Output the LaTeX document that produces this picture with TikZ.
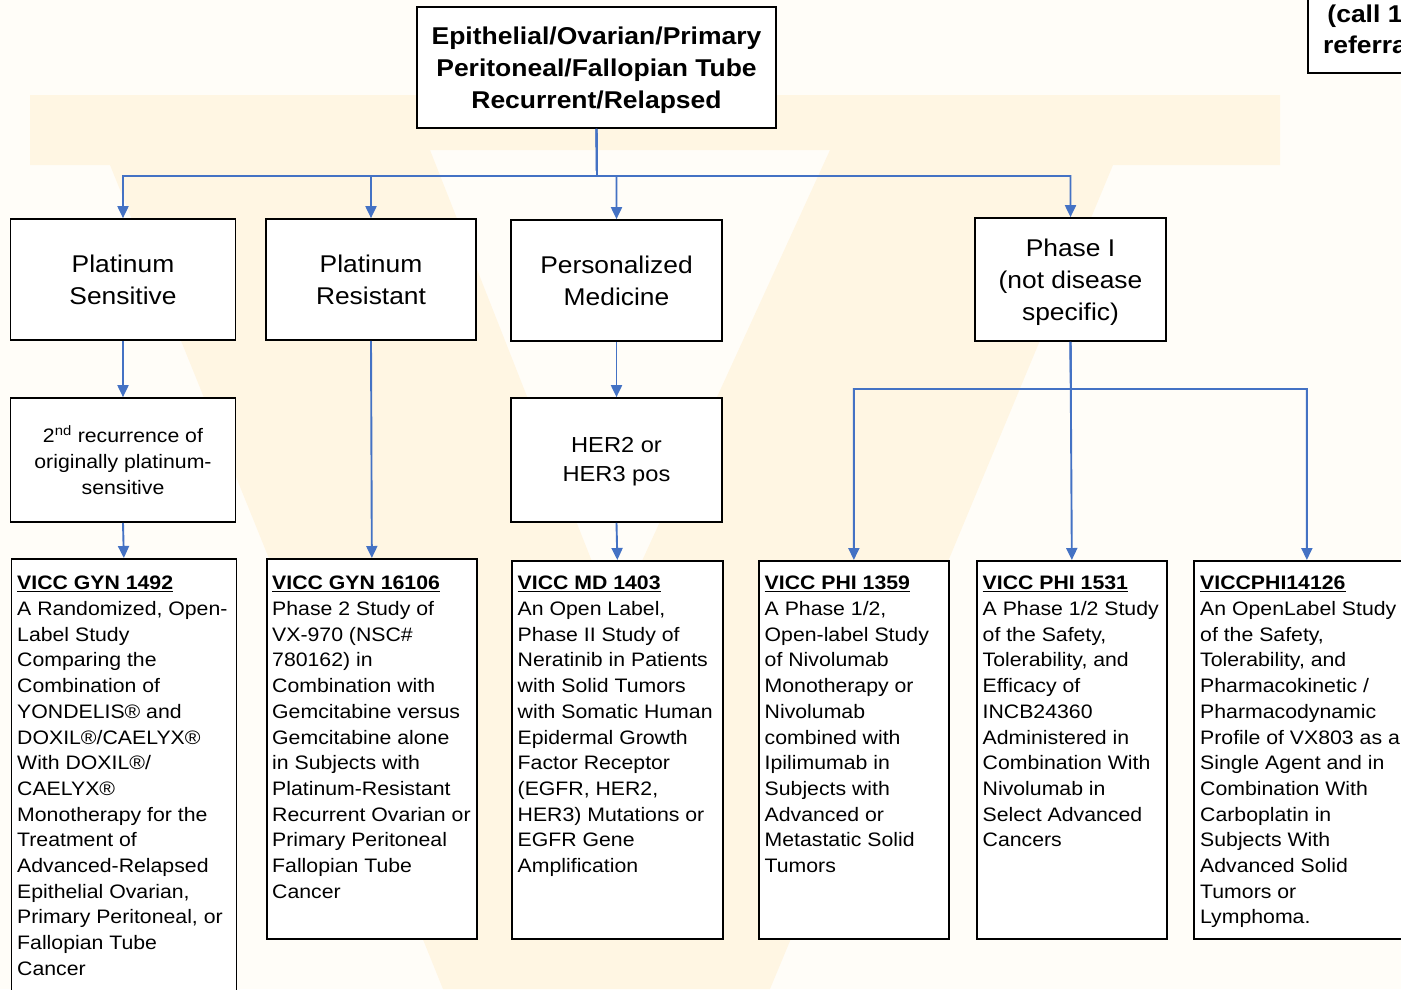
\documentclass[tikz,border=0pt]{standalone}
\usepackage{fontspec}
\setmainfont{Liberation Sans}[FakeStretch=1.09]
\usepackage{xcolor}
\usetikzlibrary{arrows.meta,positioning}
\definecolor{LinkBlue}{HTML}{4472C4}
\definecolor{PaperCream}{HTML}{FFFDF8}
\definecolor{MarkCream}{HTML}{FFF6E3}

\tikzset{
  box/.style={draw=black, line width=1.7pt, fill=white, inner sep=0pt, align=center},
  catbox/.style={box, font=\fontsize{24.2}{32}\selectfont},
  trialbox/.style={box, anchor=north west},
  trialtext/.style={anchor=north west, inner sep=0pt, align=left,
    font=\fontsize{19.5}{25.7}\selectfont},
  flow/.style={draw=LinkBlue, line width=1.9pt, -{Triangle[length=12pt,width=11pt]}},
}

\begin{document}
\begin{tikzpicture}[x=1pt,y=-1pt]
    \useasboundingbox (0,0) rectangle (1401,989);
    \clip (0,0) rectangle (1401,989);
    \fill[PaperCream] (0,0) rectangle (1401,989);
    % faint watermark
    \fill[MarkCream, even odd rule]
      (30,95) -- (1280,95) -- (1280,165) -- (1113,165) -- (770,989) -- (443,989) -- (110,165) -- (30,165) -- cycle
      (430,150) -- (830,150) -- (615,620) -- cycle;

    % top level
    \node[box, font=\bfseries\fontsize{24.3}{32}\selectfont,
      minimum width=359pt, minimum height=121pt] (head) at (596.5,67.5)
      {\rule{0pt}{23pt}Epithelial/Ovarian/Primary\\Peritoneal/Fallopian Tube\\Recurrent/Relapsed};
    \node[box, font=\bfseries\fontsize{24.3}{31}\selectfont,
      minimum width=114pt, minimum height=87pt] (call) at (1365,29.5)
      {(call 1\\referra};

    % categories
    \node[catbox, minimum width=225pt, minimum height=121pt] (psens) at (123,279.5) {Platinum\\Sensitive};
    \node[catbox, minimum width=210pt, minimum height=121pt] (pres) at (371,279.5) {Platinum\\Resistant};
    \node[catbox, minimum width=211pt, minimum height=121pt] (pmed) at (616.5,280.5) {Personalized\\Medicine};
    \node[catbox, minimum width=191pt, minimum height=123pt] (phase) at (1070.5,279.5) {\rule{0pt}{23pt}Phase I\\(not disease\\specific)};

    \node[box, font=\fontsize{19.5}{26}\selectfont, minimum width=225pt, minimum height=124pt] (recur) at (123,460)
      {2\textsuperscript{nd} recurrence of\\originally platinum-\\sensitive};
    \node[box, font=\fontsize{21.7}{29}\selectfont, minimum width=211pt, minimum height=124pt] (hertwo) at (616.5,460)
      {\rule{0pt}{19pt}HER2 or\\HER3 pos};

    % trials
    \node[trialbox, minimum width=225pt, minimum height=460pt] (gyn1492) at (10.5,558) {};
    \node[trialtext] (gyn1492txt) at ([xshift=6.5pt,yshift=-18pt]gyn1492.north west)
      {\underline{\textbf{VICC GYN 1492}}\\A Randomized, Open-\\Label Study\\Comparing the\\Combination of\\YONDELIS® and\\DOXIL®/CAELYX®\\With DOXIL®/\\CAELYX®\\Monotherapy for the\\Treatment of\\Advanced-Relapsed\\Epithelial Ovarian,\\Primary Peritoneal, or\\Fallopian Tube\\Cancer};

    \node[trialbox, minimum width=210pt, minimum height=380pt] (gyn16106) at (266,558) {};
    \node[trialtext] (gyn16106txt) at ([xshift=6pt,yshift=-18pt]gyn16106.north west)
      {\underline{\textbf{VICC GYN 16106}}\\Phase 2 Study of\\VX-970 (NSC\#\\780162) in\\Combination with\\Gemcitabine versus\\Gemcitabine alone\\in Subjects with\\Platinum-Resistant\\Recurrent Ovarian or\\Primary Peritoneal\\Fallopian Tube\\Cancer};

    \node[trialbox, minimum width=211pt, minimum height=378pt] (md1403) at (511,560) {};
    \node[trialtext] (md1403txt) at ([xshift=6.5pt,yshift=-16pt]md1403.north west)
      {\underline{\textbf{VICC MD 1403}}\\An Open Label,\\Phase II Study of\\Neratinib in Patients\\with Solid Tumors\\with Somatic Human\\Epidermal Growth\\Factor Receptor\\(EGFR, HER2,\\HER3) Mutations or\\EGFR Gene\\Amplification};

    \node[trialbox, minimum width=190pt, minimum height=378pt] (phi1359) at (758,560) {};
    \node[trialtext] (phi1359txt) at ([xshift=6.5pt,yshift=-16pt]phi1359.north west)
      {\underline{\textbf{VICC PHI 1359}}\\A Phase 1/2,\\Open-label Study\\of Nivolumab\\Monotherapy or\\Nivolumab\\combined with\\Ipilimumab in\\Subjects with\\Advanced or\\Metastatic Solid\\Tumors};

    \node[trialbox, minimum width=190pt, minimum height=378pt] (phi1531) at (976,560) {};
    \node[trialtext] (phi1531txt) at ([xshift=6.5pt,yshift=-16pt]phi1531.north west)
      {\underline{\textbf{VICC PHI 1531}}\\A Phase 1/2 Study\\of the Safety,\\Tolerability, and\\Efficacy of\\INCB24360\\Administered in\\Combination With\\Nivolumab in\\Select Advanced\\Cancers};

    \node[trialbox, minimum width=226pt, minimum height=378pt] (phi14126) at (1193,560) {};
    \node[trialtext] (phi14126txt) at ([xshift=7pt,yshift=-16pt]phi14126.north west)
      {\underline{\textbf{VICCPHI14126}}\\An OpenLabel Study\\of the Safety,\\Tolerability, and\\Pharmacokinetic /\\Pharmacodynamic\\Profile of VX803 as a\\Single Agent and in\\Combination With\\Carboplatin in\\Subjects With\\Advanced Solid\\Tumors or\\Lymphoma.};

    % connectors
    \coordinate (bus) at (597,176);
    \draw[flow] (head.south) -- (bus) -| (psens.north);
    \draw[flow] (head.south) -- (bus) -| (pres.north);
    \draw[flow] (head.south) -- (bus) -| (pmed.north);
    \draw[flow] (head.south) -- (bus) -| (phase.north);

    \draw[flow] (psens.south) -- (recur.north);
    \draw[flow] (recur.south) -- (gyn1492.north);
    \draw[flow] (pres.south) -- (gyn16106.north);
    \draw[flow] (pmed.south) -- (hertwo.north);
    \draw[flow] (hertwo.south) -- (md1403.north);

    \coordinate (pbus) at (1071,389);
    \draw[flow] (phase.south) -- (pbus) -| (phi1359.north);
    \draw[flow] (phase.south) -- (phi1531.north);
    \draw[flow] (phase.south) -- (pbus) -| (phi14126.north);
\end{tikzpicture}
\end{document}
